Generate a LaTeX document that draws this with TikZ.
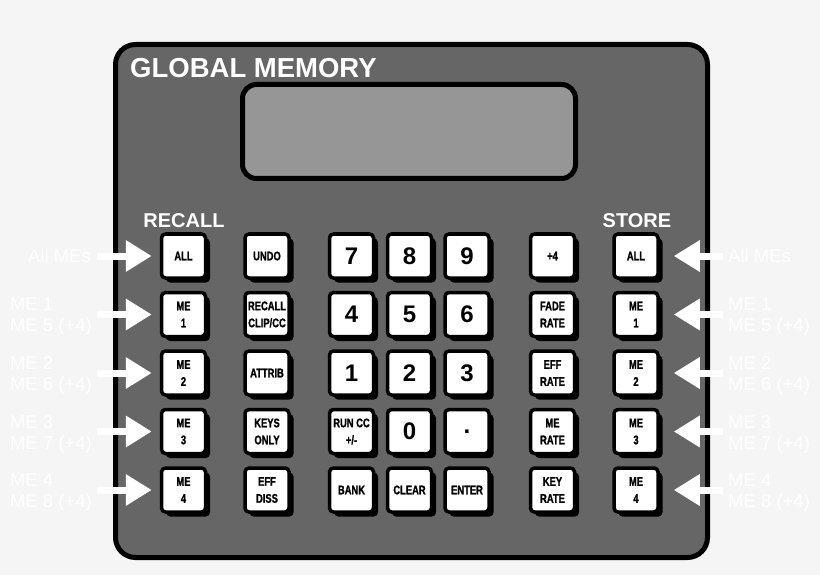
\documentclass[tikz,border=0pt]{standalone}
\usepackage{fontspec}
\setmainfont{Liberation Sans}
\newfontfamily\keyfont{Liberation Sans Bold}[FakeStretch=0.75,FakeBold=1.2]
\usetikzlibrary{arrows.meta,shadows}
\definecolor{bgcol}{RGB}{245,245,245}
\definecolor{panelcol}{RGB}{102,102,102}
\definecolor{lcdcol}{RGB}{150,150,150}

\begin{document}
\begin{tikzpicture}[x=1pt,y=-1pt,
    key/.style={fill=white,draw=black,line width=3.5pt,rounded corners=4pt,minimum size=44pt,inner sep=0pt,align=center,
      font=\keyfont\fontsize{12.5}{17}\selectfont,
      drop shadow={shadow xshift=4.5pt,shadow yshift=-4.5pt,fill=black,opacity=1}},
    digit/.style={key,font=\bfseries\fontsize{24}{24}\selectfont},
    side/.style={text=white,align=left,inner sep=0pt,font=\fontsize{18.5}{21}\selectfont},
    head/.style={text=white,inner sep=0pt,font=\bfseries\fontsize{20}{20}\selectfont},
    arr/.style={white,line width=7pt,-{Triangle[length=26pt,width=30pt]}}]

    \useasboundingbox (0,0) rectangle (820,575);
    \fill[bgcol] (0,0) rectangle (820,575);
    \draw[line width=5pt,fill=panelcol,rounded corners=20pt] (115.5,44.5) rectangle (707.5,557.5);
    \draw[line width=5pt,fill=lcdcol,rounded corners=14pt] (242.5,84.5) rectangle (575.5,178.5);

    \node[head,anchor=base west,font=\bfseries\fontsize{27.5}{27.5}\selectfont] (title) at (130,78) {GLOBAL MEMORY};
    \node[head,anchor=base] (recall) at (184,227) {RECALL};
    \node[head,anchor=base] (store) at (637,227) {STORE};

    \node[key] (ra) at (183.5,256) {ALL};
    \node[key] (r1) at (183.5,314.5) {ME\\1};
    \node[key] (r2) at (183.5,373) {ME\\2};
    \node[key] (r3) at (183.5,431.5) {ME\\3};
    \node[key] (r4) at (183.5,490) {ME\\4};

    \node[key] (undo) at (267,256) {UNDO};
    \node[key] (clip) at (267,314.5) {RECALL\\CLIP/CC};
    \node[key] (attrib) at (267,373) {ATTRIB};
    \node[key] (keys) at (267,431.5) {KEYS\\ONLY};
    \node[key] (diss) at (267,490) {EFF\\DISS};

    \node[digit] (n7) at (351.5,256) {7};
    \node[digit] (n8) at (409.5,256) {8};
    \node[digit] (n9) at (467,256) {9};
    \node[digit] (n4) at (351.5,314.5) {4};
    \node[digit] (n5) at (409.5,314.5) {5};
    \node[digit] (n6) at (467,314.5) {6};
    \node[digit] (n1) at (351.5,373) {1};
    \node[digit] (n2) at (409.5,373) {2};
    \node[digit] (n3) at (467,373) {3};
    \node[key] (run) at (351.5,431.5) {RUN CC\\+/-};
    \node[digit] (n0) at (409.5,431.5) {0};
    \node[digit] (dot) at (467,431.5) {.};
    \node[key] (bank) at (351.5,490) {BANK};
    \node[key] (clear) at (409.5,490) {CLEAR};
    \node[key] (enter) at (467,490) {ENTER};

    \node[key] (plus) at (552.5,256) {+4};
    \node[key] (fade) at (552.5,314.5) {FADE\\RATE};
    \node[key] (eff) at (552.5,373) {EFF\\RATE};
    \node[key] (me) at (552.5,431.5) {ME\\RATE};
    \node[key] (keyr) at (552.5,490) {KEY\\RATE};

    \node[key] (sa) at (636,256) {ALL};
    \node[key] (s1) at (636,314.5) {ME\\1};
    \node[key] (s2) at (636,373) {ME\\2};
    \node[key] (s3) at (636,431.5) {ME\\3};
    \node[key] (s4) at (636,490) {ME\\4};

    \node[side,anchor=east] (la) at (91,256) {All MEs};
    \node[side,anchor=east] (l1) at (92,317) {ME 1\\ME 5 (+4)};
    \node[side,anchor=east] (l2) at (92,375.5) {ME 2\\ME 6 (+4)};
    \node[side,anchor=east] (l3) at (92,434) {ME 3\\ME 7 (+4)};
    \node[side,anchor=east] (l4) at (92,492.5) {ME 4\\ME 8 (+4)};
    \node[side,anchor=west] (ta) at (728,256) {All MEs};
    \node[side,anchor=west] (t1) at (728,317) {ME 1\\ME 5 (+4)};
    \node[side,anchor=west] (t2) at (728,375.5) {ME 2\\ME 6 (+4)};
    \node[side,anchor=west] (t3) at (728,434) {ME 3\\ME 7 (+4)};
    \node[side,anchor=west] (t4) at (728,492.5) {ME 4\\ME 8 (+4)};

    \coordinate (pa) at (97,256);
    \coordinate (p1) at (97,314.5);
    \coordinate (p2) at (97,373);
    \coordinate (p3) at (97,431.5);
    \coordinate (p4) at (97,490);
    \coordinate (qa) at (723,256);
    \coordinate (q1) at (723,314.5);
    \coordinate (q2) at (723,373);
    \coordinate (q3) at (723,431.5);
    \coordinate (q4) at (723,490);

    \draw[arr,shorten >=8pt] (pa)--(ra.west);
    \draw[arr,shorten >=8pt] (p1)--(r1.west);
    \draw[arr,shorten >=8pt] (p2)--(r2.west);
    \draw[arr,shorten >=8pt] (p3)--(r3.west);
    \draw[arr,shorten >=8pt] (p4)--(r4.west);
    \draw[arr,shorten >=14pt] (qa)--(sa.east);
    \draw[arr,shorten >=14pt] (q1)--(s1.east);
    \draw[arr,shorten >=14pt] (q2)--(s2.east);
    \draw[arr,shorten >=14pt] (q3)--(s3.east);
    \draw[arr,shorten >=14pt] (q4)--(s4.east);

\end{tikzpicture}
\end{document}
